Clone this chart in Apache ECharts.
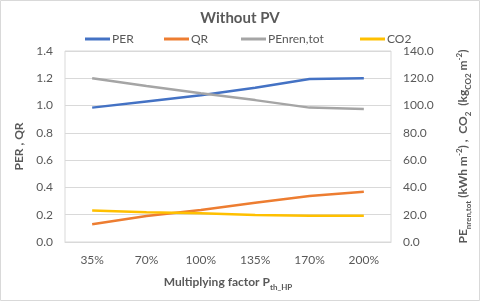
<!DOCTYPE html>
<html><head><meta charset="utf-8">
<script src="https://cdn.jsdelivr.net/npm/echarts@6/dist/echarts.min.js"></script>
<style>html,body{margin:0;padding:0;background:#fff}#c{width:480px;height:304px}</style>
</head><body><div id="c"></div>
<script>
const categories = ['35%','70%','100%','135%','170%','200%'];
const PER = [0.985, 1.03, 1.075, 1.13, 1.195, 1.20];
const QR = [0.13, 0.19, 0.235, 0.288, 0.337, 0.369];
const PEnren = [120.0, 114.4, 109.0, 104.0, 98.5, 97.5];
const CO2 = [23.0, 21.8, 21.0, 19.8, 19.3, 19.3];

const FONT = 'Lato, "Open Sans", sans-serif';
const TXT = '#595959';
const chart = echarts.init(document.getElementById('c'), null, {renderer:'canvas'});
function legend(name, left){
  return {data:[name], left:left, top:28, itemWidth:25, itemHeight:3, icon:'rect', itemGap:0,
    textStyle:{color:TXT, fontFamily:FONT, fontSize:12, padding:[0,0,0,-3]}};
}
const richBase = {
  b:{fontFamily:FONT, fontSize:12, fontWeight:'bold', color:TXT, lineHeight:18, verticalAlign:'bottom'},
  s:{fontFamily:FONT, fontSize:8, fontWeight:'bold', color:TXT, lineHeight:18, verticalAlign:'bottom', padding:[0,0,-3,0]},
  p:{fontFamily:FONT, fontSize:8, fontWeight:'bold', color:TXT, lineHeight:18, verticalAlign:'bottom', padding:[0,0,6,0]}
};
chart.setOption({
  animation:false,
  textStyle:{fontFamily:FONT},
  title:{text:'Without PV', left:'center', top:6,
    textStyle:{color:TXT, fontFamily:FONT, fontSize:15, fontWeight:'bold'}},
  legend:[legend('PER',80), legend('QR',159), legend('PEnren,tot',236), legend('CO2',355)],
  graphic:[{type:'rect', shape:{x:0.5,y:0.5,width:479,height:300}, style:{fill:'none', stroke:'#d9d9d9', lineWidth:1}, silent:true}],
  grid:{left:65, right:79, top:51, bottom:62, show:true, borderColor:'#d9d9d9', borderWidth:1},
  xAxis:{type:'category', data:categories, boundaryGap:true,
    axisLine:{lineStyle:{color:'#d9d9d9'}}, axisTick:{show:false},
    axisLabel:{color:TXT, fontSize:12, fontFamily:FONT, margin:12},
    name:'{b|Multiplying factor P}{s|th_HP}', nameLocation:'middle', nameGap:28,
    nameTextStyle:{rich:richBase}},
  yAxis:[
    {type:'value', min:0, max:1.4, interval:0.2, position:'left',
     axisLine:{show:false}, axisTick:{show:false},
     splitLine:{lineStyle:{color:'#d9d9d9'}},
     axisLabel:{color:TXT, fontSize:12, fontFamily:FONT, margin:12, formatter:v=>v.toFixed(1)},
     name:'PER , QR', nameLocation:'middle', nameGap:40, nameRotate:90,
     nameTextStyle:{color:TXT, fontFamily:FONT, fontSize:12, fontWeight:'bold'}},
    {type:'value', min:0, max:140, interval:20, position:'right',
     axisLine:{show:false}, axisTick:{show:false}, splitLine:{show:false},
     axisLabel:{color:TXT, fontSize:12, fontFamily:FONT, margin:12, formatter:v=>v.toFixed(1)},
     name:'{b|PE}{s|nren,tot}{b| (kWh m}{p|-2}{b|) ,  CO}{s|2}{b|  (kg}{s|CO2}{b| m}{p|-2}{b|)}',
     nameLocation:'middle', nameGap:60, nameRotate:90,
     nameTextStyle:{rich:richBase}}
  ],
  series:[
    {name:'PER', type:'line', data:PER, yAxisIndex:0, symbol:'none', lineStyle:{width:2.5, color:'#4472C4'}, itemStyle:{color:'#4472C4'}},
    {name:'QR', type:'line', data:QR, yAxisIndex:0, symbol:'none', lineStyle:{width:2.5, color:'#ED7D31'}, itemStyle:{color:'#ED7D31'}},
    {name:'PEnren,tot', type:'line', data:PEnren, yAxisIndex:1, symbol:'none', lineStyle:{width:2.5, color:'#A5A5A5'}, itemStyle:{color:'#A5A5A5'}},
    {name:'CO2', type:'line', data:CO2, yAxisIndex:1, symbol:'none', lineStyle:{width:2.5, color:'#FFC000'}, itemStyle:{color:'#FFC000'}}
  ]
});
</script></body></html>
